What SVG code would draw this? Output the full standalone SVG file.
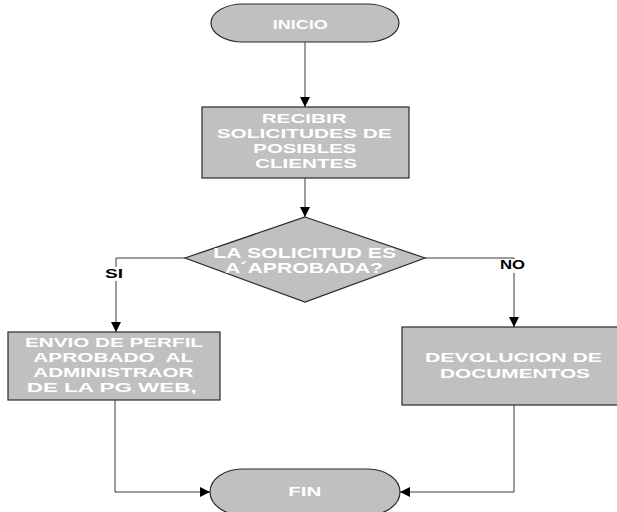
<svg xmlns="http://www.w3.org/2000/svg" width="617" height="512" viewBox="0 0 617 512">
  <defs>
    <marker id="arrow" viewBox="0 0 10 10" refX="10" refY="5" markerWidth="10" markerHeight="10" markerUnits="userSpaceOnUse" orient="auto">
      <path d="M0,0 L10,5 L0,10 Z" fill="#000"/>
    </marker>
    <style>
      .shape { fill: #c0c0c0; stroke: #2a2a2a; stroke-width: 1.2; }
      .label { fill: #ffffff; font-family: "Liberation Sans", Arial, sans-serif; font-weight: bold; font-size: 12.5px; text-anchor: start; white-space: pre; }
      .big { font-size: 14px; }
      .branch { fill: #000; font-family: "Liberation Sans", Arial, sans-serif; font-weight: bold; font-size: 12px; }
      .wire { fill: none; stroke: #3a3a3a; stroke-width: 1; }
    </style>
  </defs>

  <rect width="617" height="512" fill="#ffffff"/>

  <!-- connectors -->
  <g id="connectors">
    <path class="wire" d="M305,42 L305,107" marker-end="url(#arrow)"/>
    <path class="wire" d="M305,178 L305,217" marker-end="url(#arrow)"/>
    <path class="wire" d="M185,258 L116,258 L116,332" marker-end="url(#arrow)"/>
    <path class="wire" d="M425,258 L514,258 L514,327" marker-end="url(#arrow)"/>
    <path class="wire" d="M115,400 L115,492 L210,492" marker-end="url(#arrow)"/>
    <path class="wire" d="M514,405 L514,492 L400,492" marker-end="url(#arrow)"/>
    <!-- branch labels -->
    <rect x="103" y="267" width="22" height="14" fill="#ffffff"/>
    <text class="branch" x="105" y="278.3" textLength="18" lengthAdjust="spacingAndGlyphs">SI</text>
    <rect x="498" y="259" width="29" height="14" fill="#ffffff"/>
    <text class="branch" x="500" y="269.3" textLength="25" lengthAdjust="spacingAndGlyphs">NO</text>
  </g>

  <!-- start terminal -->
  <g id="inicio">
    <rect class="shape" x="211" y="4" width="188" height="38" rx="32" ry="19"/>
    <text class="label" x="272.7" y="29.3" textLength="55" lengthAdjust="spacingAndGlyphs">INICIO</text>
  </g>

  <!-- receive requests -->
  <g id="recibir">
    <rect class="shape" x="202" y="107" width="207" height="71"/>
    <text class="label" x="261.7" y="123.3" textLength="85" lengthAdjust="spacingAndGlyphs">RECIBIR</text>
    <text class="label" x="216.7" y="138.3" textLength="175" lengthAdjust="spacingAndGlyphs">SOLICITUDES DE</text>
    <text class="label" x="253.3" y="153.3" textLength="103" lengthAdjust="spacingAndGlyphs">POSIBLES</text>
    <text class="label" x="255" y="168.3" textLength="102" lengthAdjust="spacingAndGlyphs">CLIENTES</text>
  </g>

  <!-- decision -->
  <g id="decision">
    <path class="shape" d="M305,217 L425,258 L305,302 L185,258 Z"/>
    <text class="label big" x="213.3" y="257.7" textLength="183" lengthAdjust="spacingAndGlyphs">LA SOLICITUD ES</text>
    <text class="label big" x="225" y="272.7" textLength="158" lengthAdjust="spacingAndGlyphs">A´APROBADA?</text>
  </g>

  <!-- approved profile -->
  <g id="envio">
    <rect class="shape" x="8" y="332" width="212" height="68"/>
    <text class="label" x="25" y="346.7" textLength="178" lengthAdjust="spacingAndGlyphs">ENVIO DE PERFIL</text>
    <text class="label" x="33.3" y="361.7" textLength="160" lengthAdjust="spacingAndGlyphs" xml:space="preserve">APROBADO  AL</text>
    <text class="label" x="33.3" y="376.7" textLength="160" lengthAdjust="spacingAndGlyphs">ADMINISTRAOR</text>
    <text class="label" x="26.7" y="391.7" textLength="170" lengthAdjust="spacingAndGlyphs">DE LA PG WEB,</text>
  </g>

  <!-- returned documents -->
  <g id="devolucion">
    <rect class="shape" x="402" y="327" width="220" height="78"/>
    <text class="label" x="425" y="361.7" textLength="177" lengthAdjust="spacingAndGlyphs">DEVOLUCION DE</text>
    <text class="label" x="440" y="377.7" textLength="150" lengthAdjust="spacingAndGlyphs">DOCUMENTOS</text>
  </g>

  <!-- end terminal -->
  <g id="fin">
    <rect class="shape" x="210" y="469" width="190" height="46" rx="32" ry="23"/>
    <text class="label" x="288.3" y="496" textLength="33" lengthAdjust="spacingAndGlyphs">FIN</text>
  </g>
</svg>
